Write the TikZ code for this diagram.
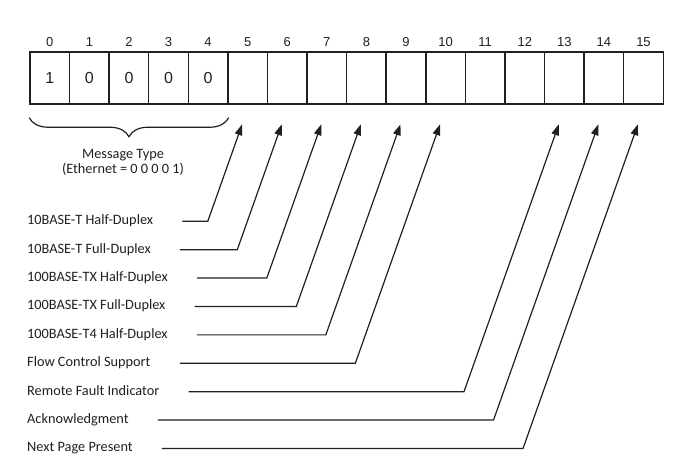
\documentclass[tikz,border=0pt]{standalone}
\usepackage{fontspec}
\setmainfont{Carlito}
\newfontfamily\digitfont{Liberation Sans}
\usetikzlibrary{arrows.meta, calc, decorations.pathreplacing}
\definecolor{ink}{HTML}{231F20}

\begin{document}
\begin{tikzpicture}[x=1pt, y=-1pt, color=ink,
    bitbox/.style={draw, line width=1.5pt, minimum width=39.58pt, minimum height=52pt, inner sep=0pt},
    bitval/.style={inner sep=0pt, font=\digitfont\fontsize{16}{16}\selectfont},
    bitnum/.style={anchor=base, inner sep=0pt, font=\digitfont\fontsize{13}{13}\selectfont},
    lab/.style={anchor=west, inner sep=0pt, text height=10pt, text depth=3pt, font=\fontsize{14.3}{15}\selectfont},
    note/.style={align=center, inner sep=0pt, font=\fontsize{14.3}{15}\selectfont},
    link/.style={line width=1.2pt, -{Triangle[length=11pt, width=7.5pt]}},
    ]
    \def\bw{39.58}   % bit box width
    \def\bx{30}      % left edge of bit 0
    \def\by{78}      % centre line of the boxes
    \def\lx{27}      % left edge of the labels
    \def\ly{221.3}   % first label row
    \def\dy{28.4}    % label row spacing
    \useasboundingbox (0,0) rectangle (678,462);
    % Draw the bit boxes and their numbers
    \foreach \i in {0,...,15} {
        \node[bitbox] (b\i) at ({\bx+(\i+0.5)*\bw},\by) {};
        \node[bitnum] (n\i) at ([yshift=5pt]b\i.north) {\i};
    }
    \foreach \i/\v in {0/1, 1/0, 2/0, 3/0, 4/0}
        \node[bitval] (v\i) at (b\i) {\v};
    % Draw the message type brace
    \draw[decorate, decoration={brace, mirror, amplitude=19pt, aspect=0.5}, line width=1.2pt]
        ([yshift=-13pt]b0.south west) -- ([yshift=-13pt]b4.south east);
    \node[note] (msg) at (123,162.5) {Message Type\\(Ethernet = 0 0 0 0 1)};
    % Draw the labels
    \node[lab] (hd10)  at (\lx,{\ly+0*\dy}) {10BASE-T Half-Duplex};
    \node[lab] (fd10)  at (\lx,{\ly+1*\dy}) {10BASE-T Full-Duplex};
    \node[lab] (hdtx)  at (\lx,{\ly+2*\dy}) {100BASE-TX Half-Duplex};
    \node[lab] (fdtx)  at (\lx,{\ly+3*\dy}) {100BASE-TX Full-Duplex};
    \node[lab] (hdt4)  at (\lx,{\ly+4*\dy}) {100BASE-T4 Half-Duplex};
    \node[lab] (flow)  at (\lx,{\ly+5*\dy}) {Flow Control Support};
    \node[lab] (fault) at (\lx,{\ly+6*\dy}) {Remote Fault Indicator};
    \node[lab] (ack)   at (\lx,{\ly+7*\dy}) {Acknowledgment};
    \node[lab] (next)  at (\lx,{\ly+8*\dy}) {Next Page Present};
    % Draw the arrows up to the bits
    \foreach \l/\b in {hd10/5, fd10/6, hdtx/7, fdtx/8, hdt4/9, flow/10, fault/13, ack/14, next/15} {
        \coordinate (t\b) at ([xshift=-5.5pt, yshift=-19.5pt]b\b.south);
        \draw[link] let \p1=(t\b), \p2=(\l.east) in
            ([xshift=29pt]\l.east) -- ({\x1-(\y1-\y2)/2.82},\y2) -- (t\b);
    }
\end{tikzpicture}
\end{document}
